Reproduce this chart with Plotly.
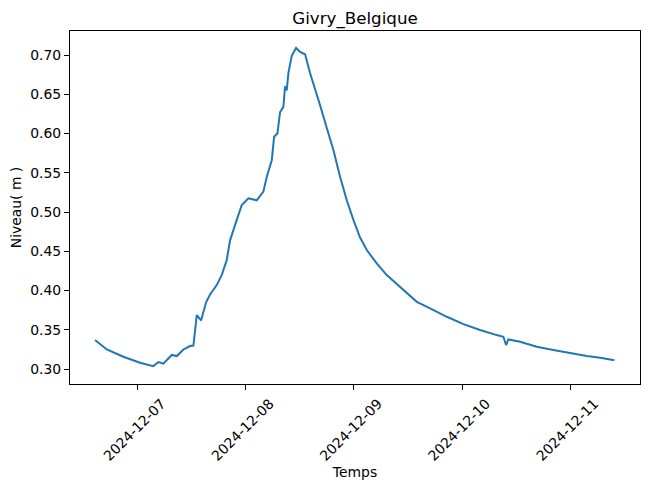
import plotly.graph_objects as go

times = [
    "2024-12-06 14:34", "2024-12-06 17:10", "2024-12-06 20:51", "2024-12-07 00:33",
    "2024-12-07 03:30", "2024-12-07 04:37", "2024-12-07 05:43", "2024-12-07 07:35",
    "2024-12-07 08:42", "2024-12-07 10:10", "2024-12-07 11:39", "2024-12-07 12:23",
    "2024-12-07 13:08", "2024-12-07 14:05", "2024-12-07 15:12", "2024-12-07 16:05",
    "2024-12-07 17:34", "2024-12-07 18:41", "2024-12-07 19:47", "2024-12-07 20:31",
    "2024-12-07 22:00", "2024-12-07 23:07", "2024-12-08 00:35", "2024-12-08 02:26",
    "2024-12-08 03:54", "2024-12-08 04:40", "2024-12-08 05:46", "2024-12-08 06:17",
    "2024-12-08 07:01", "2024-12-08 07:36", "2024-12-08 08:20", "2024-12-08 08:43",
    "2024-12-08 09:05", "2024-12-08 09:27", "2024-12-08 10:12", "2024-12-08 11:09",
    "2024-12-08 12:03", "2024-12-08 13:09", "2024-12-08 14:15", "2024-12-08 15:45",
    "2024-12-08 16:29", "2024-12-08 17:58", "2024-12-08 19:26", "2024-12-08 20:55",
    "2024-12-08 22:24", "2024-12-08 23:52", "2024-12-09 01:21", "2024-12-09 02:50",
    "2024-12-09 05:03", "2024-12-09 07:16", "2024-12-09 10:13", "2024-12-09 13:10",
    "2024-12-09 13:56", "2024-12-09 16:53", "2024-12-09 20:35", "2024-12-10 00:16",
    "2024-12-10 03:58", "2024-12-10 07:40", "2024-12-10 09:08", "2024-12-10 09:44",
    "2024-12-10 10:14", "2024-12-10 12:50", "2024-12-10 16:32", "2024-12-10 20:13",
    "2024-12-10 23:56", "2024-12-11 03:38", "2024-12-11 06:35", "2024-12-11 09:45",
]
niveau = [
    0.337, 0.325, 0.3157, 0.308,
    0.3038, 0.309, 0.307, 0.318,
    0.3166, 0.325, 0.3293, 0.330,
    0.3688, 0.362, 0.385, 0.395,
    0.407, 0.420, 0.439, 0.464,
    0.490, 0.509, 0.5175, 0.515,
    0.526, 0.545, 0.566, 0.596,
    0.600, 0.627, 0.634, 0.660,
    0.655, 0.677, 0.699, 0.709,
    0.704, 0.701, 0.677, 0.650,
    0.636, 0.607, 0.579, 0.545,
    0.515, 0.490, 0.4675, 0.4516,
    0.4346, 0.4197, 0.4045, 0.389,
    0.3857, 0.3773, 0.3666, 0.3573,
    0.3497, 0.3433, 0.3411, 0.3306,
    0.3378, 0.3348, 0.3284, 0.3242,
    0.320, 0.3166, 0.3144, 0.3112,
]
x_ticks = ["2024-12-07", "2024-12-08", "2024-12-09", "2024-12-10", "2024-12-11"]
y_ticks = [0.30, 0.35, 0.40, 0.45, 0.50, 0.55, 0.60, 0.65, 0.70]

font = "DejaVu Sans"
W, H = 641, 481  # page body has an 8px default margin
fig = go.Figure(go.Scatter(x=times, y=niveau, mode="lines",
                           line=dict(color="#1f77b4", width=2)))
fig.update_layout(
    width=W, height=H,
    margin=dict(l=62, r=9, t=23, b=105),
    paper_bgcolor="white", plot_bgcolor="white",
    font=dict(family=font, size=13.9, color="black"),
    title=dict(text="Givry_Belgique", x=347 / W, xanchor="center",
               y=1 - 10 / H, yanchor="middle", font=dict(size=16.7)),
    showlegend=False,
)
fig.update_xaxes(
    range=["2024-12-06 09:01", "2024-12-11 15:26"],
    tickvals=x_ticks, ticktext=x_ticks, tickangle=-45, ticklabelshift=24,
    ticks="outside", ticklen=5, tickcolor="black", showgrid=False, zeroline=False,
    showline=True, linecolor="black", linewidth=1, mirror=True, automargin=False,
    title=dict(text="Temps", standoff=3, font=dict(size=13.9)),
)
fig.update_yaxes(
    range=[0.281, 0.7306],
    tickvals=y_ticks, ticktext=[f"{v:.2f}" for v in y_ticks],
    ticks="outside", ticklen=5, tickcolor="black", showgrid=False, zeroline=False,
    showline=True, linecolor="black", linewidth=1, mirror=True, automargin=False,
    title=dict(text="Niveau( m )", standoff=6, font=dict(size=13.9)),
)
fig.write_html("out.html")
